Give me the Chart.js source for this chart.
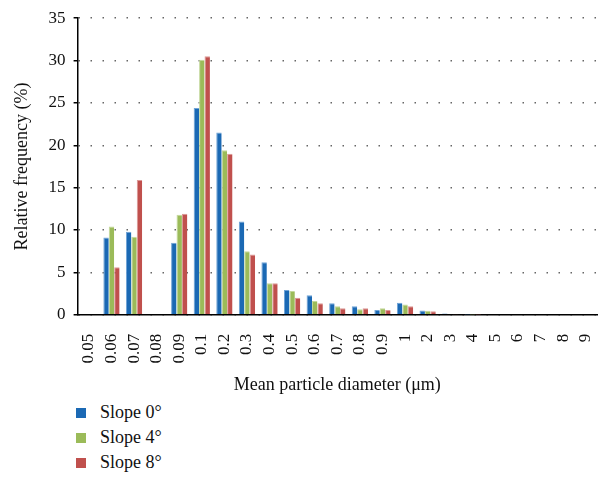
<!DOCTYPE html>
<html>
<head>
<meta charset="utf-8">
<script src="https://cdn.jsdelivr.net/npm/chart.js@4"></script>
<style>
    body { margin: 0; background: #fff; }
    #wrap { position: relative; width: 599px; height: 479px; }
    #chartBox { position: absolute; left: 0; top: 0; width: 599px; height: 398px; }
    #legend { position: absolute; left: 76px; top: 400px; font-family: 'Liberation Serif', serif; font-size: 18px; color: #111; }
    #legend div { height: 25px; line-height: 25px; }
    #legend span { display: inline-block; width: 10px; height: 10px; margin-right: 14px; vertical-align: 0px; }
</style>
</head>
<body>
<div id="wrap">
    <div id="chartBox"><canvas id="barChart"></canvas></div>
    <div id="legend"></div>
</div>
<script>
// categories (mean particle diameter, um)
const diameters = ['0.05', '0.06', '0.07', '0.08', '0.09', '0.1', '0.2', '0.3', '0.4', '0.5', '0.6',
    '0.7', '0.8', '0.9', '1', '2', '3', '4', '5', '6', '7', '8', '9'];
// relative frequency (%) per slope
const slope0 = [0, 9.1, 9.8, 0, 8.5, 24.4, 21.5, 11.0, 6.2, 2.9, 2.3, 1.35, 1.0, 0.55, 1.4, 0.5, 0.15, 0.03, 0, 0, 0, 0, 0];
const slope4 = [0, 10.4, 9.2, 0, 11.8, 30.1, 19.4, 7.5, 3.7, 2.8, 1.6, 1.0, 0.65, 0.75, 1.2, 0.45, 0.08, 0.01, 0, 0, 0, 0, 0];
const slope8 = [0, 5.6, 15.9, 0, 11.9, 30.5, 19.0, 7.1, 3.7, 2.0, 1.35, 0.75, 0.75, 0.55, 1.0, 0.4, 0.05, 0.01, 0, 0, 0, 0, 0];
const seriesNames = ['Slope 0°', 'Slope 4°', 'Slope 8°'];
const colors = ['#1b69b4', '#9bbb59', '#c0504d'];
const edges = ['#6fa3d6', '#c3d79a', '#dc9896'];
const yTicks = [0, 5, 10, 15, 20, 25, 30, 35];

const serif = "'Liberation Serif', serif";
const allData = [slope0, slope4, slope8];

const data1 = {
    labels: diameters,
    datasets: allData.map((vals, i) => ({
        label: seriesNames[i],
        data: vals,
        backgroundColor: colors[i],
        borderColor: edges[i],
        borderWidth: { top: 1, left: 1, right: 0, bottom: 0 },
        categoryPercentage: 0.72,
        barPercentage: 1.0
    }))
};

const configBar = {
    type: 'bar',
    data: data1,
    options: {
        responsive: true,
        maintainAspectRatio: false,
        animation: false,
        layout: { padding: { left: 11, right: 2, top: 5, bottom: 2 } },
        plugins: {
            legend: { display: false },
            tooltip: { enabled: false }
        },
        scales: {
            x: {
                grid: { display: false },
                border: { color: '#000', width: 1.5 },
                // rotated labels reserve extra room on the right, drop it so the axis runs to the edge
                afterFit: (axis) => { axis.paddingRight = 0; },
                ticks: {
                    color: '#111',
                    font: { family: serif, size: 17 },
                    maxRotation: 90,
                    minRotation: 90,
                    autoSkip: false,
                    padding: 11
                },
                title: {
                    display: true,
                    text: 'Mean particle diameter (μm)',
                    color: '#111',
                    font: { family: serif, size: 18 },
                    padding: { top: 0, bottom: 0 }
                }
            },
            y: {
                min: 0,
                max: 35,
                afterBuildTicks: (axis) => { axis.ticks = yTicks.map(v => ({ value: v })); },
                grid: {
                    color: '#666',
                    lineWidth: 1.5,
                    tickColor: '#000',
                    tickLength: 4,
                    tickBorderDash: []
                },
                border: { color: '#000', width: 1.5, dash: [1.5, 10.5] },
                ticks: {
                    color: '#111',
                    font: { family: serif, size: 17 },
                    padding: 8
                },
                title: {
                    display: true,
                    text: 'Relative frequency (%)',
                    color: '#111',
                    font: { family: serif, size: 18 },
                    padding: { top: 0, bottom: 8 }
                }
            }
        }
    }
};

const getBarChart = document.getElementById('barChart').getContext('2d');
const myBarChart = new Chart(getBarChart, configBar);

// legend stacked vertically under the chart, like the original
const legendBox = document.getElementById('legend');
seriesNames.forEach((name, i) => {
    const row = document.createElement('div');
    row.innerHTML = '<span style="background:' + colors[i] + '"></span>' + name;
    legendBox.appendChild(row);
});
</script>
</body>
</html>
